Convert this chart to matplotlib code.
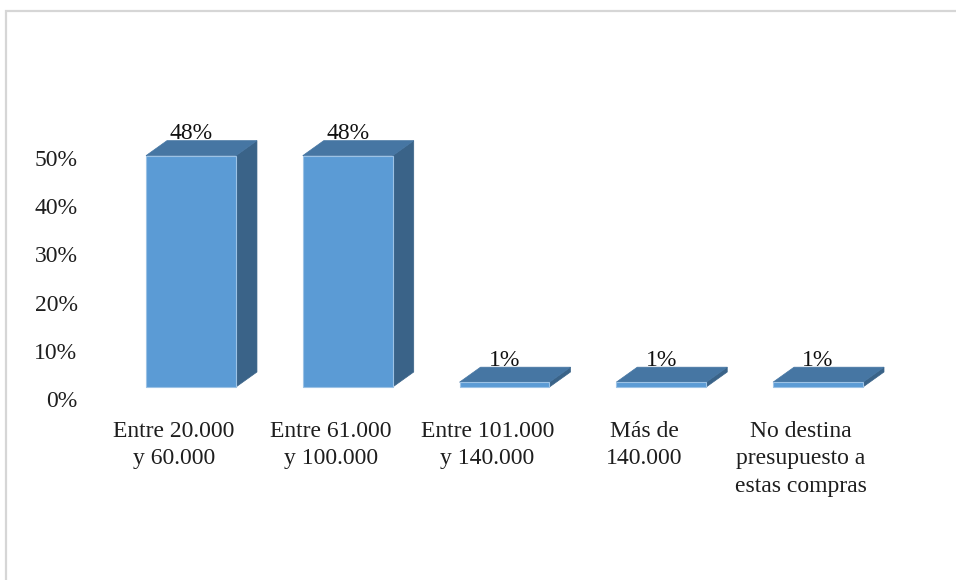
import matplotlib
matplotlib.use("Agg")
import matplotlib.pyplot as plt
from matplotlib.patches import Polygon, Rectangle
from matplotlib.transforms import ScaledTranslation

categories = ["Entre 20.000\ny 60.000", "Entre 61.000\ny 100.000",
              "Entre 101.000\ny 140.000", "Más de\n140.000",
              "No destina\npresupuesto a\nestas compras"]
values = [48, 48, 1, 1, 1]
value_labels = ["48%", "48%", "1%", "1%", "1%"]
yticks = [0, 10, 20, 30, 40, 50]
ytick_labels = ["0%", "10%", "20%", "30%", "40%", "50%"]

plt.rcParams['font.family'] = ['Liberation Serif', 'DejaVu Serif']

W, H = 956, 580
fig = plt.figure(figsize=(W / 100, H / 100), dpi=100)
fig.patch.set_facecolor("white")

# frame
fig.patches.append(Rectangle((5.5 / W, -0.05), 1.2, 1.05 - 11 / H,
                             transform=fig.transFigure, fill=False,
                             edgecolor="#D6D6D6", linewidth=1.6))

ax_left, ax_right = 95.6, 879.4
y0_px, y50_px = 399, 158
ppu = (y0_px - y50_px) / 50.0
ymax = 55
ax_top = y0_px - ymax * ppu
ax = fig.add_axes([ax_left / W, (H - y0_px) / H, (ax_right - ax_left) / W, (y0_px - ax_top) / H])
ax.set_xlim(-0.5, len(categories) - 0.5)
ax.set_ylim(0, ymax)
for s in ax.spines.values():
    s.set_visible(False)
ax.set_facecolor("none")

fs = 17
ax.set_yticks(yticks)
ax.set_yticklabels(ytick_labels, fontsize=fs, color="#1E1E1E")
ax.set_xticks(range(len(categories)))
ax.set_xticklabels(categories, fontsize=fs, color="#1E1E1E", linespacing=1.42,
                   multialignment="center")
ax.tick_params(axis="y", length=0, pad=13)
ax.tick_params(axis="x", length=0, pad=15.5)

front = "#5B9BD5"
top_c = "#4676A3"
side_c = "#3A6388"
edge = "#9CC2E5"

off = ax.transData + ScaledTranslation(17 / 100, 12 / 100, fig.dpi_scale_trans)
w = 90 / 156.8
dx = 21 / 156.8
dy = 15 / ppu

for i, v in enumerate(values):
    xl, xr = i - w / 2, i + w / 2
    side = Polygon([(xr, 0), (xr + dx, dy), (xr + dx, v + dy), (xr, v)], closed=True,
                   facecolor=side_c, edgecolor=side_c, linewidth=0.5, transform=off, clip_on=False)
    topf = Polygon([(xl, v), (xr, v), (xr + dx, v + dy), (xl + dx, v + dy)], closed=True,
                   facecolor=top_c, edgecolor=top_c, linewidth=0.5, transform=off, clip_on=False)
    fr = Rectangle((xl, 0), w, v, facecolor=front, edgecolor=edge, linewidth=0.8,
                   transform=off, clip_on=False)
    ax.add_patch(side)
    ax.add_patch(topf)
    ax.add_patch(fr)
    ax.text(i, v + dy + 0.3, value_labels[i], ha="center", va="baseline",
            fontsize=fs, color="#111111", transform=off, clip_on=False)

fig.savefig("out.png", dpi=100)
